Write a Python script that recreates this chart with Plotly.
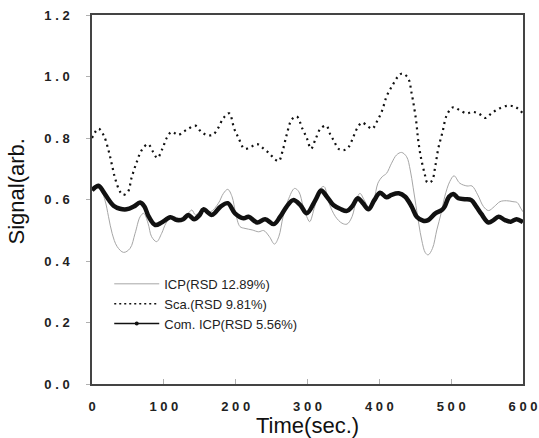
import plotly.graph_objects as go

# --- data ------------------------------------------------------------------
icp_t = [0, 11, 18, 23, 28, 35, 44, 53, 60, 67, 72, 78, 83, 90, 97, 103, 111,
         120, 127, 134, 139, 144, 153, 165, 176, 183, 189, 195, 200, 206, 213,
         223, 232, 239, 247, 254, 260, 266, 273, 282, 288, 294, 299, 303, 310,
         318, 323, 330, 339, 348, 355, 362, 368, 373, 379, 385, 392, 398, 404,
         410, 417, 424, 431, 438, 443, 447, 451, 455, 459, 464, 468, 474, 480,
         486, 491, 498, 504, 512, 522, 529, 537, 545, 552, 560, 568, 577, 586,
         592, 597, 600]
icp_v = [0.63, 0.636, 0.598, 0.544, 0.49, 0.447, 0.428, 0.441, 0.49, 0.544,
         0.555, 0.523, 0.479, 0.463, 0.49, 0.523, 0.544, 0.54, 0.54, 0.555,
         0.566, 0.55, 0.566, 0.56, 0.588, 0.62, 0.633, 0.609, 0.555, 0.512,
         0.506, 0.501, 0.495, 0.499, 0.479, 0.455, 0.479, 0.544, 0.598, 0.636,
         0.625, 0.577, 0.544, 0.528, 0.577, 0.636, 0.642, 0.588, 0.544, 0.523,
         0.52, 0.544, 0.598, 0.62, 0.598, 0.577, 0.598, 0.653, 0.674, 0.685,
         0.718, 0.745, 0.753, 0.739, 0.696, 0.64, 0.58, 0.52, 0.468, 0.427,
         0.42, 0.441, 0.501, 0.555, 0.609, 0.658, 0.677, 0.653, 0.644, 0.644,
         0.615, 0.577, 0.564, 0.577, 0.593, 0.596, 0.593, 0.59, 0.571, 0.56]

sca_t = [0, 9, 16, 23, 28, 32, 38, 43, 50, 55, 62, 69, 78, 85, 91, 98, 104,
         111, 120, 127, 134, 144, 152, 160, 168, 175, 183, 191, 198, 204, 212,
         220, 230, 239, 247, 255, 260, 265, 271, 278, 285, 293, 299, 305, 311,
         318, 326, 332, 337, 343, 350, 357, 364, 370, 376, 383, 390, 397, 404,
         410, 418, 426, 432, 440, 445, 451, 454, 458, 463, 467, 473, 478, 482,
         488, 494, 503, 512, 522, 529, 538, 548, 556, 566, 579, 590, 600]
sca_v = [0.80, 0.83, 0.81, 0.76, 0.71, 0.67, 0.63, 0.615, 0.625, 0.67, 0.72,
         0.76, 0.78, 0.755, 0.735, 0.765, 0.80, 0.82, 0.81, 0.82, 0.83, 0.84,
         0.82, 0.81, 0.81, 0.83, 0.865, 0.88, 0.83, 0.80, 0.765, 0.77, 0.78,
         0.765, 0.75, 0.73, 0.725, 0.755, 0.81, 0.86, 0.87, 0.83, 0.80, 0.765,
         0.795, 0.83, 0.84, 0.81, 0.79, 0.765, 0.76, 0.77, 0.805, 0.835, 0.85,
         0.84, 0.83, 0.855, 0.89, 0.935, 0.97, 1.0, 1.01, 0.995, 0.945, 0.86,
         0.795, 0.735, 0.685, 0.655, 0.66, 0.71, 0.765, 0.82, 0.875, 0.90,
         0.89, 0.88, 0.885, 0.88, 0.865, 0.88, 0.895, 0.905, 0.90, 0.88]

com_t = [0, 9, 16, 23, 30, 39, 48, 58, 67, 73, 79, 88, 97, 109, 118, 127, 134,
         142, 150, 155, 167, 179, 189, 199, 211, 218, 230, 241, 253, 262, 271,
         280, 290, 299, 311, 319, 327, 336, 346, 355, 362, 370, 377, 385, 393,
         401, 410, 417, 427, 436, 445, 452, 461, 468, 478, 487, 491, 497, 503,
         510, 519, 528, 535, 542, 552, 559, 566, 575, 583, 591, 600]
com_v = [0.63, 0.645, 0.625, 0.60, 0.58, 0.57, 0.568, 0.577, 0.59, 0.577,
         0.544, 0.517, 0.525, 0.542, 0.533, 0.536, 0.55, 0.536, 0.55, 0.568,
         0.55, 0.577, 0.588, 0.555, 0.539, 0.544, 0.525, 0.536, 0.52, 0.544,
         0.577, 0.598, 0.582, 0.555, 0.598, 0.629, 0.609, 0.582, 0.569, 0.563,
         0.577, 0.604, 0.588, 0.568, 0.598, 0.622, 0.607, 0.615, 0.62, 0.609,
         0.577, 0.544, 0.531, 0.533, 0.555, 0.566, 0.577, 0.609, 0.618, 0.604,
         0.601, 0.598, 0.577, 0.553, 0.525, 0.533, 0.544, 0.533, 0.528, 0.536,
         0.526]

labels = ["ICP(RSD 12.89%)", "Sca.(RSD 9.81%)", "Com. ICP(RSD 5.56%)"]
x_ticks = [0, 100, 200, 300, 400, 500, 600]
y_ticks = [0.0, 0.2, 0.4, 0.6, 0.8, 1.0, 1.2]

FONT = "Liberation Sans, Arial, sans-serif"
GREY = "#a6a6a6"
INK = "#111111"


def spaced(s):
    # the original tick labels are set with wide letter spacing
    return " ".join(s)


fig = go.Figure()

# actual curves (no legend)
fig.add_trace(go.Scatter(x=icp_t, y=icp_v, mode="lines", line_shape="spline",
                         line=dict(color=GREY, width=1), showlegend=False))
fig.add_trace(go.Scatter(x=sca_t, y=sca_v, mode="lines", line_shape="spline",
                         line=dict(color=INK, width=2.2, dash="2px,4px"),
                         showlegend=False))
fig.add_trace(go.Scatter(x=com_t, y=com_v, mode="lines", line_shape="spline",
                         line=dict(color=INK, width=4.5), showlegend=False))

# legend-only entries styled like the original key
fig.add_trace(go.Scatter(x=[None], y=[None], mode="lines", name=labels[0],
                         line=dict(color=GREY, width=1)))
fig.add_trace(go.Scatter(x=[None], y=[None], mode="lines", name=labels[1],
                         line=dict(color=INK, width=1.5, dash="2px,3px")))
fig.add_trace(go.Scatter(x=[None], y=[None], mode="lines+markers", name=labels[2],
                         line=dict(color=INK, width=1.5),
                         marker=dict(color=INK, size=4)))

fig.update_layout(
    template="none",
    width=539, height=438,
    plot_bgcolor="white", paper_bgcolor="white",
    font=dict(family=FONT, color=INK, size=13),
    margin=dict(l=92, r=16, t=15, b=54, autoexpand=False),
    legend=dict(x=0.04, y=0.312, xanchor="left", yanchor="top",
                bgcolor="rgba(255,255,255,0)", borderwidth=0,
                font=dict(size=13, color="#222"),
                tracegroupgap=0, itemwidth=45),
    annotations=[
        dict(text="Time(sec.)", xref="paper", yref="paper", x=0.5, y=0,
             xanchor="center", yanchor="middle", yshift=-41, showarrow=False,
             font=dict(size=22, color=INK)),
        dict(text="Signal(arb.", xref="paper", yref="paper", x=0, y=0.5,
             xanchor="center", yanchor="middle", xshift=-76, yshift=8,
             textangle=-90, showarrow=False, font=dict(size=22, color=INK)),
    ],
)
fig.update_xaxes(range=[0, 600], tickvals=x_ticks,
                 ticktext=[spaced(str(v)) for v in x_ticks],
                 ticks="inside", ticklen=5, tickcolor="#b0b0b0",
                 ticklabelstandoff=10, automargin=False,
                 tickfont=dict(size=13, weight="bold", color="#222"),
                 showline=True, linecolor="#444", linewidth=1.5, mirror=True,
                 showgrid=False, zeroline=False)
fig.update_yaxes(range=[0, 1.2], tickvals=y_ticks,
                 ticktext=[spaced(f"{v:.1f}") for v in y_ticks],
                 ticks="outside", ticklen=4, tickcolor="#b0b0b0",
                 ticklabelstandoff=14, automargin=False,
                 tickfont=dict(size=13, weight="bold", color="#222"),
                 showline=True, linecolor="#444", linewidth=1.5, mirror=True,
                 showgrid=False, zeroline=False)

fig.write_html("out.html", config={"displayModeBar": False},
               post_script="document.body.style.margin='0';"
                           "document.body.style.overflow='hidden';")
